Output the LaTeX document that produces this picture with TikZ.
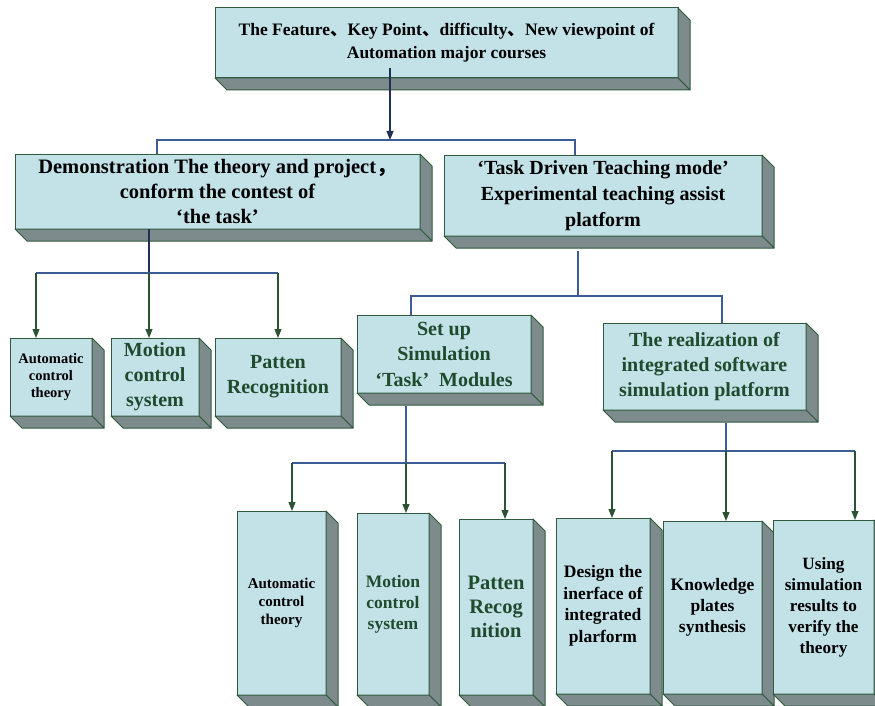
\documentclass[tikz,border=0pt]{standalone}
\usepackage{fontspec}
\setmainfont{Liberation Serif}
\newfontfamily\cjk{Noto Sans CJK SC}
\usetikzlibrary{arrows.meta,calc}
\definecolor{facec}{HTML}{C2E2E8}
\definecolor{sidec}{HTML}{7D8B8D}
\definecolor{bord}{HTML}{2F5A3C}
\definecolor{gtxt}{HTML}{1F4A2C}
\definecolor{busc}{HTML}{3E5C94}
\definecolor{dropc}{HTML}{2C5234}
\definecolor{navy}{HTML}{1F2F55}
\newcommand\cjkc[1]{{\cjk #1}}
% name, left, top, right, bottom, style, text
\newcommand\cube[7]{%
  \node[face,#6,minimum width={(#4)-(#2)},minimum height={(#5)-(#3)}] (#1) at ({((#2)+(#4))/2},{((#3)+(#5))/2}) {#7};
  \filldraw[side] (#1.north east) -- ++(12,12) -- ($(#1.south east)+(12,12)$) -- (#1.south east) -- cycle;
  \filldraw[side] (#1.south west) -- (#1.south east) -- ($(#1.south east)+(12,12)$) -- ($(#1.south west)+(12,12)$) -- cycle;
}
\begin{document}
\begin{tikzpicture}[x=1pt,y=-1pt,
  face/.style={draw=bord,fill=facec,line width=1pt,inner sep=2pt,outer sep=0pt,align=center,text=black},
  side/.style={draw=bord,fill=sidec,line width=1pt,line join=round},
  gt/.style={text=gtxt},
  bus/.style={draw=busc,line width=1.1pt},
  trunk/.style={draw=navy,line width=1.1pt},
  drop/.style={draw=dropc,line width=1.1pt,-{Triangle[width=7pt,length=9pt]}},
  tdrop/.style={draw=navy,line width=1.1pt,-{Triangle[width=7pt,length=9pt]}}]
\fill[white] (0,0) rectangle (875,706);
\useasboundingbox (0,0) rectangle (875,706);

% top
\cube{T}{215}{8}{678}{78}{font=\bfseries\fontsize{17.5}{23}\selectfont}{The Feature\cjkc{、}Key Point\cjkc{、}difficulty\cjkc{、}New viewpoint of\\Automation major courses}
% second level
\cube{L}{15}{154}{420}{229}{font=\bfseries\fontsize{20.5}{25}\selectfont}{Demonstration The theory and project\cjkc{，}\\conform the contest of\\‘the task’}
\cube{R}{444}{155}{762}{236}{font=\bfseries\fontsize{20}{26}\selectfont}{‘Task Driven Teaching mode’\\Experimental teaching assist\\platform}
% left third level
\cube{A1}{10}{338}{92}{416}{font=\bfseries\fontsize{14.5}{17}\selectfont}{Automatic\\control\\theory}
\cube{A2}{111}{338}{199}{416}{gt,font=\bfseries\fontsize{20}{25}\selectfont}{Motion\\control\\system}
\cube{A3}{215}{338}{341}{416}{gt,font=\bfseries\fontsize{20}{25}\selectfont}{Patten\\Recognition}
% right third level
\cube{S}{357}{315}{531}{393}{gt,font=\bfseries\fontsize{20}{25.5}\selectfont}{Set up\\Simulation\\‘Task’\enspace Modules}
\cube{Z}{603}{323}{806}{410}{gt,font=\bfseries\fontsize{20}{25}\selectfont}{The realization of\\integrated software\\simulation platform}
% bottom
\cube{B1}{237}{511}{326}{695}{font=\bfseries\fontsize{15}{18}\selectfont}{Automatic\\control\\theory}
\cube{B2}{357}{513}{429}{695}{gt,font=\bfseries\fontsize{17.5}{21}\selectfont}{Motion\\control\\system}
\cube{B3}{459}{519}{533}{695}{gt,font=\bfseries\fontsize{20.5}{24}\selectfont}{Patten\\Recog\\nition}
\cube{C1}{556}{518}{650}{694}{font=\bfseries\fontsize{17.5}{21.5}\selectfont}{Design the\\inerface of\\integrated\\plarform}
\cube{C2}{663}{521}{762}{694}{font=\bfseries\fontsize{17.5}{21}\selectfont}{Knowledge\\plates\\synthesis}
\cube{C3}{773}{520}{874}{694}{font=\bfseries\fontsize{17.2}{21}\selectfont}{Using\\simulation\\results to\\verify the\\theory}

% connectors: top
\coordinate (j1) at (390,140);
\coordinate (b1L) at (157,140);
\coordinate (b1R) at (575,140);
\draw[bus] (b1L |- L.north) -- (b1L) -- (b1R) -- (b1R |- R.north);
\draw[tdrop] ([yshift=10pt]T.south -| j1) -- (j1);

% left group
\coordinate (j2) at (149,273);
\coordinate (b2L) at (36,273);
\coordinate (b2R) at (278,273);
\draw[trunk] (L.south -| j2) -- (j2);
\draw[bus] (b2L) -- (b2R);
\draw[drop] (b2L) -- (b2L |- A1.north);
\draw[drop] (j2) -- (j2 |- A2.north);
\draw[drop] (b2R) -- (b2R |- A3.north);

% right group
\coordinate (j3) at (578,296);
\coordinate (b3L) at (411,296);
\coordinate (b3R) at (722,296);
\draw[bus] ([yshift=-15pt]R.south -| j3) -- (j3);
\draw[bus] (b3L |- S.north) -- (b3L) -- (b3R) -- (b3R |- Z.north);

% set up group
\coordinate (j4) at (406,463);
\coordinate (b4L) at (292,463);
\coordinate (b4R) at (505,463);
\draw[bus] ([yshift=-13pt]S.south -| j4) -- (j4);
\draw[bus] (b4L) -- (b4R);
\draw[drop] (b4L) -- (b4L |- B1.north);
\draw[drop] (j4) -- (j4 |- B2.north);
\draw[drop] (b4R) -- (b4R |- B3.north);

% realization group
\coordinate (j5) at (726,451);
\coordinate (b5L) at (612,451);
\coordinate (b5R) at (855,451);
\draw[bus] ([yshift=-13pt]Z.south -| j5) -- (j5);
\draw[bus] (b5L) -- (b5R);
\draw[drop] (b5L) -- (b5L |- C1.north);
\draw[drop] (j5) -- (j5 |- C2.north);
\draw[drop] (b5R) -- (b5R |- C3.north);
\end{tikzpicture}
\end{document}
